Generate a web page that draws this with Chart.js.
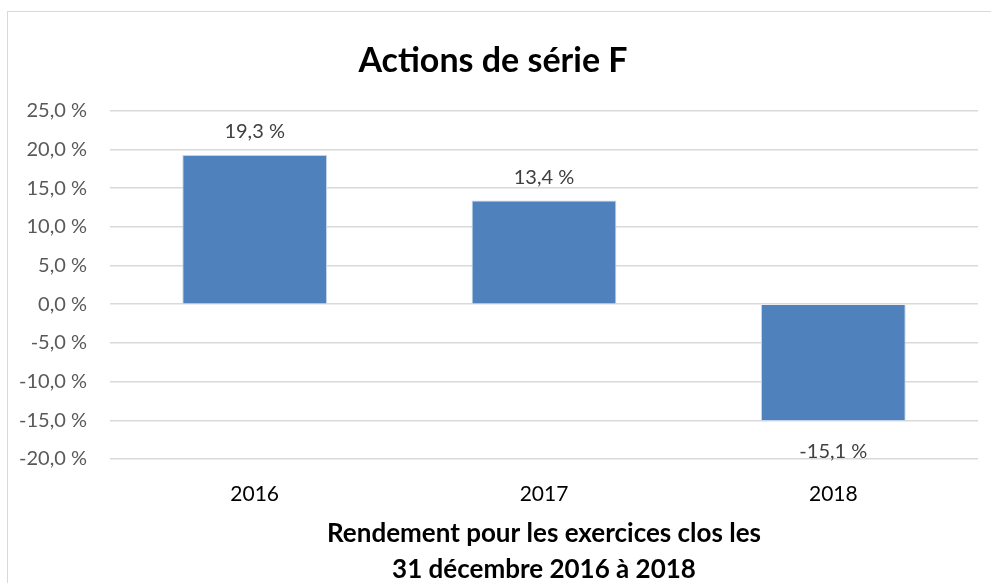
<!DOCTYPE html>
<html>
<head>
<meta charset="utf-8">
<script src="https://cdn.jsdelivr.net/npm/chart.js@4"></script>
<style>
  html, body { margin: 0; padding: 0; background: #fff; }
  #wrap { position: relative; width: 991px; height: 583px; overflow: hidden; }
  #cadre { position: absolute; left: 7px; top: 11px; width: 1000px; height: 600px;
           border-left: 1.5px solid #d9d9d9; border-top: 1.5px solid #d9d9d9; }
  canvas { position: absolute; left: 0; top: 0; }
</style>
</head>
<body>
<div id="wrap">
  <div id="cadre"></div>
  <canvas id="rendementChart" width="991" height="590"></canvas>
</div>
<script>
// données
const annees = ['2016', '2017', '2018'];
const rendements = [19.3, 13.4, -15.1];
const titreGraphique = 'Actions de série F';
const titreAxeX = ['Rendement pour les exercices clos les', '31 décembre 2016 à 2018'];

const police = 'Lato, Carlito, Calibri, sans-serif';

function formatPct(v) {
  return v.toFixed(1).replace('.', ',') + ' %';
}

// étiquettes de valeur au-dessus / en dessous des barres
const etiquettesPlugin = {
  id: 'etiquettes',
  afterDatasetsDraw(chart) {
    const ctx = chart.ctx;
    const meta = chart.getDatasetMeta(0);
    ctx.save();
    ctx.font = '20px ' + police;
    ctx.fillStyle = '#404040';
    ctx.textAlign = 'center';
    ctx.textBaseline = 'middle';
    meta.data.forEach((bar, i) => {
      const v = rendements[i];
      const y = v >= 0 ? bar.y - 23 : bar.y + 30;
      ctx.fillText(formatPct(v), bar.x, y);
    });
    ctx.restore();
  }
};

const ctx = document.getElementById('rendementChart').getContext('2d');
new Chart(ctx, {
  type: 'bar',
  data: {
    labels: annees,
    datasets: [{
      data: rendements,
      backgroundColor: '#4f81bd',
      borderColor: '#c3d3ea',
      borderWidth: 1,
      barPercentage: 1,
      categoryPercentage: 0.5
    }]
  },
  plugins: [etiquettesPlugin],
  options: {
    responsive: false,
    animation: false,
    layout: { padding: { left: 8, right: 13, top: 11, bottom: 0 } },
    plugins: {
      legend: { display: false },
      tooltip: { enabled: false },
      title: {
        display: true,
        text: titreGraphique,
        color: '#000',
        font: { family: police, size: 34, weight: 'bold' },
        padding: { top: 30, bottom: 29 }
      }
    },
    scales: {
      x: {
        grid: { display: false, drawTicks: false },
        border: { display: false },
        ticks: {
          color: '#000',
          padding: 23,
          font: { family: police, size: 21 }
        },
        title: {
          display: true,
          text: titreAxeX,
          color: '#000',
          font: { family: police, size: 26, weight: 'bold', lineHeight: 36 / 26 },
          padding: { top: 4, bottom: 2 }
        },
        afterFit(scale) { scale.height = 131; }
      },
      y: {
        min: -20,
        max: 25,
        grid: { color: '#d9d9d9', lineWidth: 1.5, drawTicks: false },
        border: { display: false },
        ticks: {
          stepSize: 5,
          color: '#595959',
          padding: 23,
          font: { family: police, size: 20 },
          callback: (v) => formatPct(v)
        },
        afterFit(scale) { scale.width = 102; }
      }
    }
  }
});
</script>
</body>
</html>
